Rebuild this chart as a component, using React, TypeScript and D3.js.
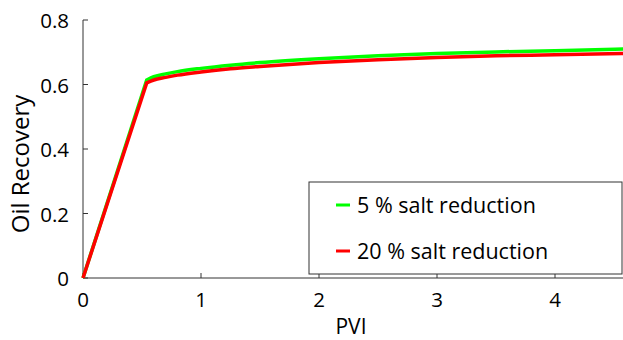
import React, { useEffect, useRef } from "react";
import * as d3 from "d3";

const pvi = [0, 0.54, 0.6, 0.7, 0.8, 1.0, 1.25, 1.5, 2, 2.5, 3, 3.5, 4, 4.6];
const green5 = [0, 0.614, 0.624, 0.633, 0.640, 0.650, 0.660, 0.668, 0.680, 0.689, 0.696, 0.701, 0.705, 0.710];
const red20 = [0, 0.605, 0.614, 0.622, 0.629, 0.639, 0.649, 0.656, 0.668, 0.677, 0.684, 0.689, 0.692, 0.696];
const seriesNames = ["5 % salt reduction", "20 % salt reduction"];
const seriesColors = ["#00ff00", "#ff0000"];
const xTicks = [0, 1, 2, 3, 4];
const yTicks = [0, 0.2, 0.4, 0.6, 0.8];

export default function App() {
  const ref = useRef<SVGSVGElement>(null);
  useEffect(() => {
    const svg = d3.select(ref.current);
    svg.selectAll("*").remove();
    const left = 83, right = 623, top = 20, bottom = 278;
    const x = d3.scaleLinear().domain([0, (right - left) / 118]).range([left, right]);
    const y = d3.scaleLinear().domain([0, 0.8]).range([bottom, top]);
    const font = "'Open Sans', sans-serif";
    const axisColor = "#333";

    const g = svg.append("g");
    g.append("line").attr("x1", left).attr("x2", left).attr("y1", top).attr("y2", bottom).attr("stroke", axisColor).attr("stroke-width", 1);
    g.append("line").attr("x1", left).attr("x2", right).attr("y1", bottom).attr("y2", bottom).attr("stroke", axisColor).attr("stroke-width", 1);

    yTicks.forEach((t) => {
      g.append("line").attr("x1", left).attr("x2", left + 5).attr("y1", y(t)).attr("y2", y(t)).attr("stroke", axisColor);
      g.append("text").attr("x", left - 14).attr("y", y(t) + 8).attr("text-anchor", "end")
        .attr("font-family", font).attr("font-size", 20.5).attr("fill", "#000").text(d3.format("")(t));
    });
    xTicks.forEach((t) => {
      g.append("line").attr("x1", x(t)).attr("x2", x(t)).attr("y1", bottom).attr("y2", bottom - 5).attr("stroke", axisColor);
      g.append("text").attr("x", x(t)).attr("y", bottom + 29).attr("text-anchor", "middle")
        .attr("font-family", font).attr("font-size", 20.5).attr("fill", "#000").text(String(t));
    });

    g.append("text").attr("x", 351).attr("y", 334).attr("text-anchor", "middle")
      .attr("font-family", font).attr("font-size", 21).attr("fill", "#000").text("PVI");
    g.append("text").attr("transform", `translate(29,164) rotate(-90)`).attr("text-anchor", "middle")
      .attr("font-family", font).attr("font-size", 24).attr("fill", "#000").text("Oil Recovery");

    const smooth = d3.line<number>().x((d, i) => x(pvi[i + 1])).y((d) => y(d)).curve(d3.curveMonotoneX);
    [green5, red20].forEach((s, k) => {
      const tail = (smooth(s.slice(1)) as string).replace(/^M/, "L");
      const d = `M${x(pvi[0])},${y(s[0])}` + tail;
      g.append("path").attr("d", d).attr("fill", "none")
        .attr("stroke", seriesColors[k]).attr("stroke-width", 3.5).attr("stroke-linejoin", "miter");
    });

    const lx = 309, ly = 182, lw = 313, lh = 92;
    g.append("rect").attr("x", lx).attr("y", ly).attr("width", lw).attr("height", lh)
      .attr("fill", "#fff").attr("stroke", axisColor).attr("stroke-width", 1);
    [205, 251].forEach((yy, k) => {
      g.append("line").attr("x1", 336).attr("x2", 350).attr("y1", yy).attr("y2", yy)
        .attr("stroke", seriesColors[k]).attr("stroke-width", 3);
      g.append("text").attr("x", 357).attr("y", yy + 8).attr("font-family", font)
        .attr("font-size", 21.5).attr("fill", "#000").text(seriesNames[k]);
    });
  }, []);
  return <svg ref={ref} width={623} height={340} style={{ position: "absolute", left: 0, top: 0 }} />;
}
